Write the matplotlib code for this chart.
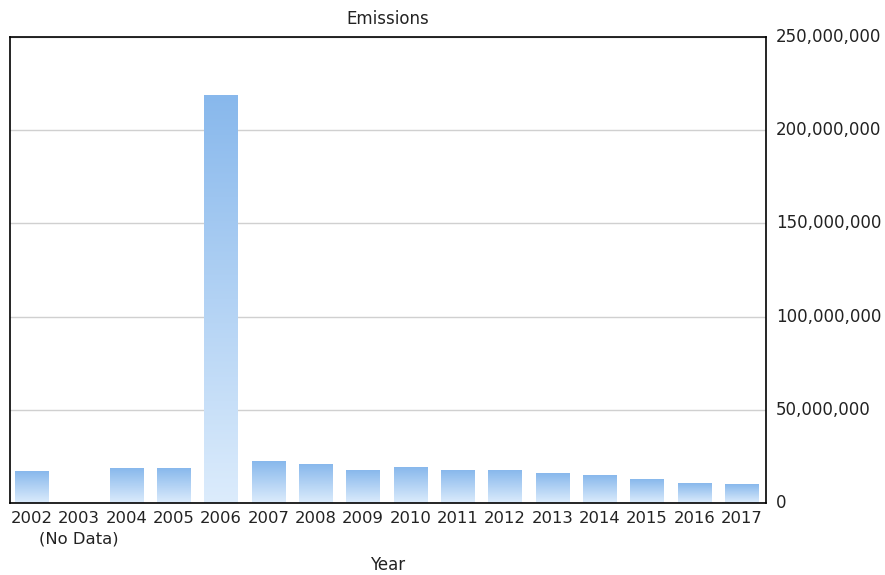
import matplotlib.pyplot as plt
import numpy as np
from matplotlib.colors import LinearSegmentedColormap

years = ['2002', '2003', '2004', '2005', '2006', '2007', '2008', '2009',
         '2010', '2011', '2012', '2013', '2014', '2015', '2016', '2017']
emissions = [16.8e6, 0, 18.4e6, 18.4e6, 218.5e6, 22.0e6, 20.4e6, 17.2e6,
             18.8e6, 17.2e6, 17.2e6, 15.6e6, 14.5e6, 12.7e6, 10.6e6, 9.7e6]
yticks = [0, 50e6, 100e6, 150e6, 200e6, 250e6]

plt.rcParams['font.family'] = 'DejaVu Sans'

fig = plt.figure(figsize=(8.85, 5.75), dpi=100)
ax = fig.add_axes([10/885, 1 - 503/575, 756/885, 466/575])

cmap = LinearSegmentedColormap.from_list('bar', ['#dcecfc', '#88b8ec'])
grad = np.linspace(0, 1, 256).reshape(-1, 1)

x = np.arange(len(years))
width = 0.7
for xi, v in zip(x, emissions):
    if v <= 0:
        continue
    ax.imshow(grad, extent=[xi - width/2, xi + width/2, 0, v], origin='lower',
              cmap=cmap, aspect='auto', zorder=2)

ax.set_xlim(-0.455, 15.515)
ax.set_ylim(0, 250e6)
ax.set_xticks(x)
ax.set_xticklabels(years, fontsize=11.8, color='#222222')
# the no-data note sits on its own line under 2003
ax.annotate('(No Data)', xy=(1, 0), xycoords=('data', 'axes fraction'),
            xytext=(0, -31), textcoords='offset points', ha='center', va='bottom',
            fontsize=11.8, color='#222222')
ax.set_yticks(yticks)
ax.set_yticklabels([f'{int(t):,}' for t in yticks], fontsize=12, color='#222222')
ax.yaxis.tick_right()
ax.tick_params(axis='both', length=0)
ax.tick_params(axis='x', pad=6)
ax.tick_params(axis='y', pad=7)
for lbl in ax.get_yticklabels():
    lbl.set_verticalalignment('center')
ax.grid(axis='y', color='#d0d0d0', linewidth=1, zorder=1)
for s in ax.spines.values():
    s.set_color('black')
    s.set_linewidth(1.2)

ax.set_title('Emissions', fontsize=12, color='#222222', pad=9)
ax.set_xlabel('Year', fontsize=12, color='#222222', labelpad=21)

fig.savefig('out.png', dpi=100)
